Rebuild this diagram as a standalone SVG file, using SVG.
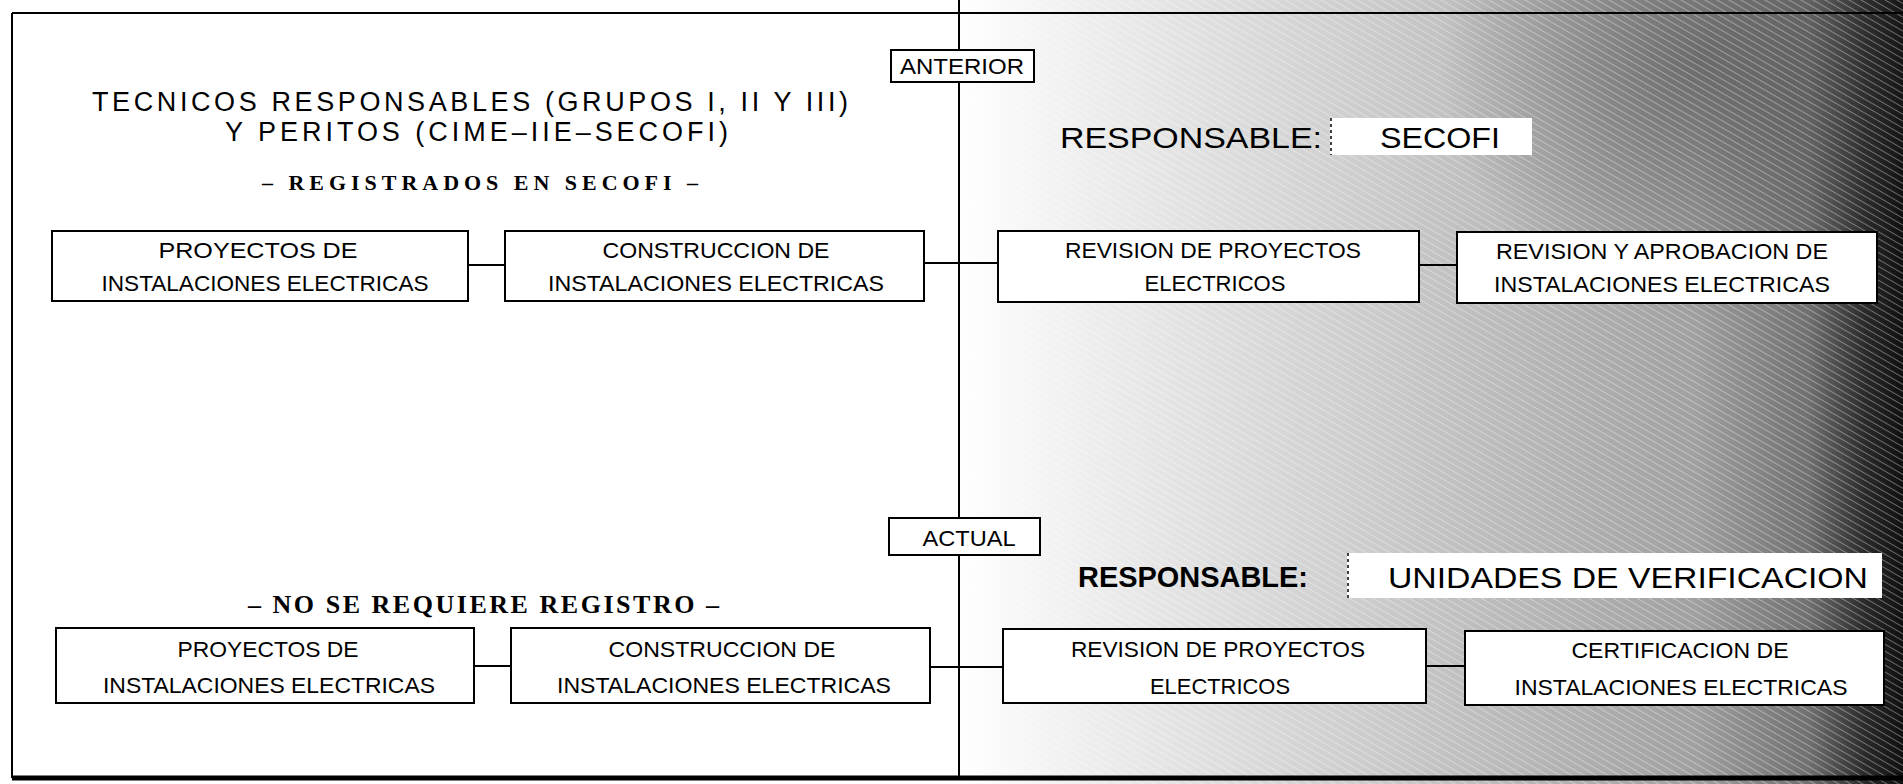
<svg xmlns="http://www.w3.org/2000/svg" width="1903" height="784" viewBox="0 0 1903 784">
  <defs>
    <linearGradient id="scan" x1="960" y1="0" x2="1903" y2="0" gradientUnits="userSpaceOnUse">
      <stop offset="0" stop-color="#ffffff"/>
      <stop offset="0.15" stop-color="#ececec"/>
      <stop offset="0.45" stop-color="#cacaca"/>
      <stop offset="0.78" stop-color="#a0a0a0"/>
      <stop offset="0.9" stop-color="#707070"/>
      <stop offset="0.96" stop-color="#2a2a2a"/>
      <stop offset="1" stop-color="#101010"/>
    </linearGradient>
    <radialGradient id="blot" cx="1700" cy="60" r="260" gradientUnits="userSpaceOnUse">
      <stop offset="0" stop-color="#404040" stop-opacity="0.55"/>
      <stop offset="1" stop-color="#404040" stop-opacity="0"/>
    </radialGradient>
    <pattern id="hatch" width="6" height="6" patternUnits="userSpaceOnUse" patternTransform="rotate(-60)">
      <line x1="0" y1="0" x2="0" y2="6" stroke="#ffffff" stroke-width="2" stroke-opacity="0.35"/>
    </pattern>
  </defs>
  <style>
    .box { fill: #ffffff; stroke: #000000; stroke-width: 2; }
    .tag { fill: #ffffff; stroke: #000000; stroke-width: 2; }
    .plate { fill: #ffffff; stroke: none; }
    .frame { fill: none; stroke: #000000; stroke-width: 2; }
    .conn { stroke: #000000; stroke-width: 2; fill: none; }
    .lbl { font-family: "Liberation Sans", Arial, sans-serif; font-size: 22px; fill: #000000; text-anchor: middle; }
    .title { font-family: "Liberation Sans", Arial, sans-serif; font-size: 27px; fill: #000000; }
    .serif { font-family: "Liberation Serif", "Times New Roman", serif; font-weight: bold; fill: #000000; }
    .resp { font-family: "Liberation Sans", Arial, sans-serif; font-size: 30px; fill: #000000; }
  </style>

  <rect x="0" y="0" width="1903" height="784" fill="#ffffff"/>
  <rect x="960" y="0" width="943" height="784" fill="url(#scan)"/>
  <rect x="1400" y="0" width="503" height="330" fill="url(#blot)"/>
  <rect x="960" y="0" width="943" height="784" fill="url(#hatch)"/>

  <g id="frame">
    <line class="frame" x1="12" y1="13" x2="1903" y2="13"/>
    <line class="frame" x1="12" y1="13" x2="12" y2="778"/>
    <line x1="12" y1="778" x2="1903" y2="778" stroke="#000000" stroke-width="5"/>
    <line class="frame" x1="959" y1="0" x2="959" y2="778"/>
  </g>

  <g id="connectors">
    <line class="conn" x1="468" y1="265" x2="505" y2="265"/>
    <line class="conn" x1="924" y1="263" x2="998" y2="263"/>
    <line class="conn" x1="1419" y1="265" x2="1457" y2="265"/>
    <line class="conn" x1="474" y1="666" x2="511" y2="666"/>
    <line class="conn" x1="930" y1="667" x2="1003" y2="667"/>
    <line class="conn" x1="1426" y1="666" x2="1465" y2="666"/>
  </g>

  <g id="titulo-anterior">
    <text class="title" x="92" y="111" textLength="756" lengthAdjust="spacing">TECNICOS  RESPONSABLES  (GRUPOS I, II Y III)</text>
    <text class="title" x="225" y="141" textLength="503" lengthAdjust="spacing">Y PERITOS  (CIME–IIE–SECOFI)</text>
    <text class="serif" x="262" y="190" font-size="22" textLength="436" lengthAdjust="spacing">– REGISTRADOS EN SECOFI –</text>
  </g>

  <g id="tag-anterior">
    <rect class="tag" x="891" y="50" width="143" height="32"/>
    <text class="lbl" x="962" y="74" font-size="20" textLength="124" lengthAdjust="spacingAndGlyphs">ANTERIOR</text>
  </g>

  <g id="responsable-secofi">
    <text class="resp" x="1060" y="148" textLength="262" lengthAdjust="spacingAndGlyphs">RESPONSABLE:</text>
    <rect class="plate" x="1330" y="118" width="202" height="37"/>
    <line x1="1331" y1="118" x2="1331" y2="155" stroke="#000" stroke-width="1.5" stroke-dasharray="3 3"/>
    <text class="resp" x="1380" y="148" textLength="120" lengthAdjust="spacingAndGlyphs">SECOFI</text>
  </g>

  <g id="a-proyectos">
    <rect class="box" x="52" y="231" width="416" height="70"/>
    <text class="lbl" x="258" y="258" textLength="199" lengthAdjust="spacingAndGlyphs">PROYECTOS DE</text>
    <text class="lbl" x="265" y="291" textLength="327" lengthAdjust="spacingAndGlyphs">INSTALACIONES ELECTRICAS</text>
  </g>

  <g id="a-construccion">
    <rect class="box" x="505" y="231" width="419" height="70"/>
    <text class="lbl" x="716" y="258" textLength="227" lengthAdjust="spacingAndGlyphs">CONSTRUCCION DE</text>
    <text class="lbl" x="716" y="291" textLength="336" lengthAdjust="spacingAndGlyphs">INSTALACIONES ELECTRICAS</text>
  </g>

  <g id="a-revision">
    <rect class="box" x="998" y="231" width="421" height="71"/>
    <text class="lbl" x="1213" y="258" textLength="296" lengthAdjust="spacingAndGlyphs">REVISION DE PROYECTOS</text>
    <text class="lbl" x="1215" y="291" textLength="141" lengthAdjust="spacingAndGlyphs">ELECTRICOS</text>
  </g>

  <g id="a-aprobacion">
    <rect class="box" x="1457" y="232" width="420" height="71"/>
    <text class="lbl" x="1662" y="259" textLength="332" lengthAdjust="spacingAndGlyphs">REVISION Y APROBACION DE</text>
    <text class="lbl" x="1662" y="292" textLength="336" lengthAdjust="spacingAndGlyphs">INSTALACIONES ELECTRICAS</text>
  </g>

  <g id="tag-actual">
    <rect class="tag" x="889" y="518" width="151" height="37"/>
    <text class="lbl" x="969" y="546" font-size="22" textLength="93" lengthAdjust="spacingAndGlyphs">ACTUAL</text>
  </g>

  <g id="titulo-actual">
    <text class="serif" x="248" y="613" font-size="26" textLength="471" lengthAdjust="spacing">– NO SE REQUIERE REGISTRO –</text>
  </g>

  <g id="responsable-uv">
    <text class="resp" x="1078" y="587" font-weight="bold" textLength="230" lengthAdjust="spacingAndGlyphs">RESPONSABLE:</text>
    <rect class="plate" x="1347" y="553" width="535" height="45"/>
    <line x1="1348" y1="553" x2="1348" y2="598" stroke="#000" stroke-width="1.5" stroke-dasharray="3 3"/>
    <text class="resp" x="1388" y="588" font-size="32" textLength="480" lengthAdjust="spacingAndGlyphs">UNIDADES  DE VERIFICACION</text>
  </g>

  <g id="b-proyectos">
    <rect class="box" x="56" y="628" width="418" height="75"/>
    <text class="lbl" x="268" y="657" textLength="181" lengthAdjust="spacingAndGlyphs">PROYECTOS DE</text>
    <text class="lbl" x="269" y="693" textLength="332" lengthAdjust="spacingAndGlyphs">INSTALACIONES ELECTRICAS</text>
  </g>

  <g id="b-construccion">
    <rect class="box" x="511" y="628" width="419" height="75"/>
    <text class="lbl" x="722" y="657" textLength="227" lengthAdjust="spacingAndGlyphs">CONSTRUCCION DE</text>
    <text class="lbl" x="724" y="693" textLength="334" lengthAdjust="spacingAndGlyphs">INSTALACIONES ELECTRICAS</text>
  </g>

  <g id="b-revision">
    <rect class="box" x="1003" y="629" width="423" height="74"/>
    <text class="lbl" x="1218" y="657" textLength="294" lengthAdjust="spacingAndGlyphs">REVISION DE PROYECTOS</text>
    <text class="lbl" x="1220" y="694" textLength="140" lengthAdjust="spacingAndGlyphs">ELECTRICOS</text>
  </g>

  <g id="b-certificacion">
    <rect class="box" x="1465" y="631" width="419" height="74"/>
    <text class="lbl" x="1680" y="658" textLength="217" lengthAdjust="spacingAndGlyphs">CERTIFICACION DE</text>
    <text class="lbl" x="1681" y="695" textLength="333" lengthAdjust="spacingAndGlyphs">INSTALACIONES ELECTRICAS</text>
  </g>
</svg>
